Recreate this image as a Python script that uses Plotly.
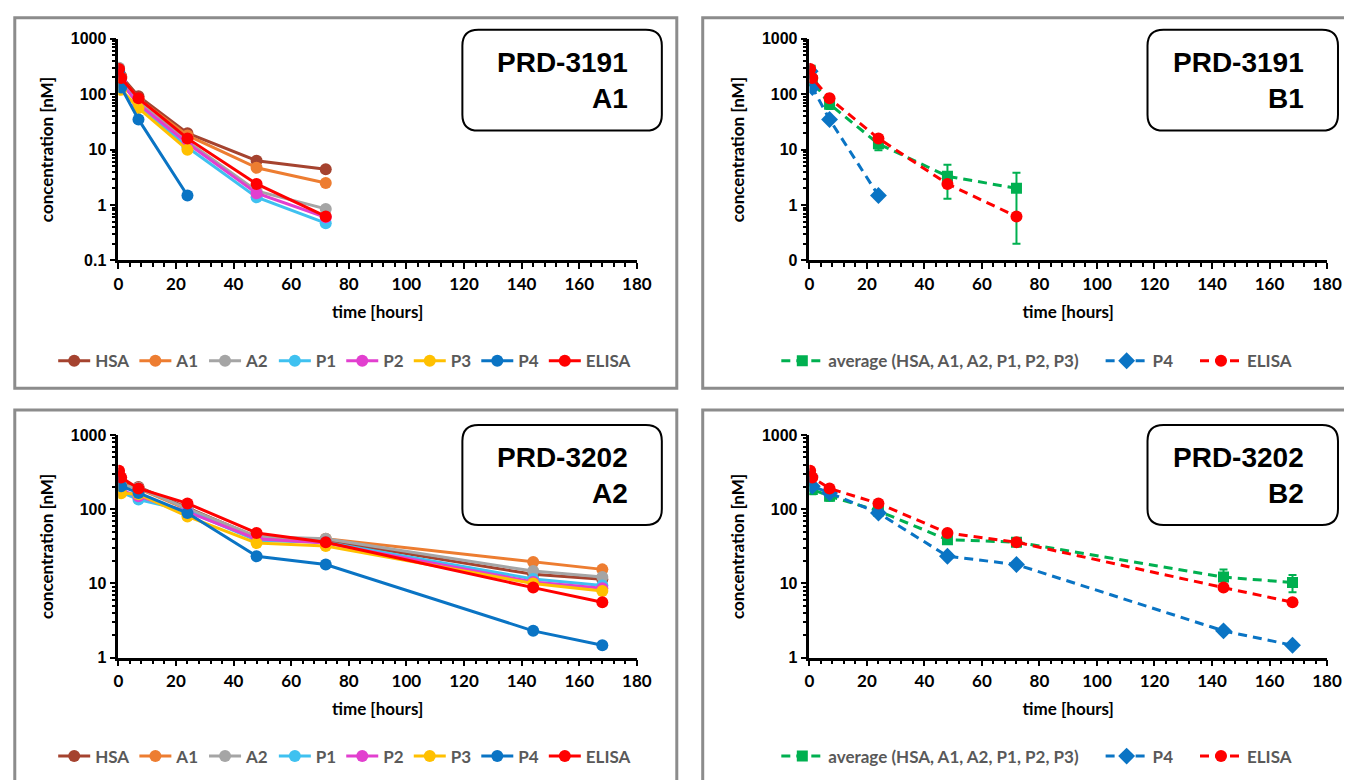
import plotly.graph_objects as go

# Figure size (px) and measured page->photo mapping (photo = A * figure_px + B)
W, H = 1362, 784
AX, BX = 0.988, 11.4
AY, BY = 0.980, 15.2

# ---------------- data ----------------
t_3191 = [0.25, 1, 7, 24, 48, 72]
t_3191_p4 = [0.25, 1, 7, 24]
t_3191_p3 = [0.25, 1, 7, 24]
t_3202 = [0.25, 1, 7, 24, 48, 72, 144, 168]

a1_hsa = [290, 210, 92, 19.7, 6.3, 4.4]
a1_a1 = [270, 200, 82, 18, 4.7, 2.5]
a1_a2 = [300, 190, 72, 14, 1.8, 0.85]
a1_p1 = [250, 170, 64, 11, 1.38, 0.47]
a1_p2 = [230, 160, 66, 13, 1.63, 0.6]
a1_p3 = [180, 120, 56, 9.9]
a1_p4 = [260, 132, 35, 1.48]
a1_elisa = [285, 196, 84, 15.9, 2.4, 0.62]

b1_avg = [270, 175, 66, 12.7, 3.3, 2.0]
b1_avg_err = [40, 30, 12, 3, 2.0, 1.8]

a2_hsa = [300, 230, 200, 105, 42, 38, 13.3, 11.4]
a2_a1 = [280, 220, 190, 100, 40, 40, 19.5, 15.5]
a2_a2 = [290, 210, 195, 102, 43, 40, 14.7, 12.2]
a2_p1 = [250, 170, 135, 95, 38, 36, 11.5, 9.4]
a2_p2 = [220, 180, 150, 92, 40, 35, 10.5, 8.6]
a2_p3 = [190, 165, 160, 80, 35, 32, 10.0, 7.9]
a2_p4 = [280, 205, 166, 89, 23.3, 18, 2.3, 1.47]
a2_elisa = [330, 268, 191, 120, 48, 36, 8.8, 5.6]

b2_avg = [270, 185, 150, 95, 39, 36, 12.2, 10.3]
b2_avg_err = [50, 25, 20, 8, 3, 3, 3.2, 2.7]

series_names = ["HSA", "A1", "A2", "P1", "P2", "P3", "P4", "ELISA"]
series_colors = ["#A5432F", "#ED7D31", "#A5A5A5", "#3FC1F0", "#E23FCF", "#FFC000", "#0A74C4", "#FF0000"]
avg_name = "average (HSA, A1, A2, P1, P2, P3)"
avg_color = "#00B050"

log_ticks_a = [0.1, 1, 10, 100, 1000]
log_text_a = ["0.1", "1", "10", "100", "1000"]
log_text_b = ["0", "1", "10", "100", "1000"]
log_ticks_2 = [1, 10, 100, 1000]
log_text_2 = ["1", "10", "100", "1000"]
x_ticks = [0, 20, 40, 60, 80, 100, 120, 140, 160, 180]

panel_labels = [("PRD-3191", "A1"), ("PRD-3191", "B1"), ("PRD-3202", "A2"), ("PRD-3202", "B2")]

# ---------------- helpers (photo pixel -> paper) ----------------
def fx(x):
    return (x - BX) / AX

def fy(y):
    return (y - BY) / AY

def px(x):
    return fx(x) / W

def py(y):
    return 1 - fy(y) / H

CAL = "Lato, Open Sans, sans-serif"
ARIAL = "Liberation Sans, Arial, sans-serif"
SP = "\u2002"

fig = go.Figure()

A_sets = {
    1: ([a1_hsa, a1_a1, a1_a2, a1_p1, a1_p2, a1_p3, a1_p4, a1_elisa],
        [t_3191, t_3191, t_3191, t_3191, t_3191, t_3191_p3, t_3191_p4, t_3191]),
    3: ([a2_hsa, a2_a1, a2_a2, a2_p1, a2_p2, a2_p3, a2_p4, a2_elisa],
        [t_3202] * 8),
}

for ax, (vals, times) in A_sets.items():
    leg = "legend" if ax == 1 else "legend3"
    for name, col, v, tx in zip(series_names, series_colors, vals, times):
        fig.add_trace(go.Scatter(
            x=tx, y=v, name=name, mode="lines+markers",
            line=dict(color=col, width=3),
            marker=dict(color=col, size=12, symbol="circle"),
            xaxis="x" + ("" if ax == 1 else str(ax)),
            yaxis="y" + ("" if ax == 1 else str(ax)),
            legend=leg,
        ))

B_sets = {
    2: (t_3191, b1_avg, b1_avg_err, t_3191_p4, a1_p4, a1_elisa),
    4: (t_3202, b2_avg, b2_avg_err, t_3202, a2_p4, a2_elisa),
}
for ax, (tt, avg, err, tp4, p4, el) in B_sets.items():
    xa, ya, leg = "x" + str(ax), "y" + str(ax), "legend" + str(ax)
    fig.add_trace(go.Scatter(
        x=tt, y=avg, name=avg_name + SP * 2, mode="lines+markers",
        line=dict(color=avg_color, width=3, dash="9px,6px"),
        marker=dict(color=avg_color, size=11, symbol="square"),
        error_y=dict(type="data", array=err, visible=True, color=avg_color, thickness=2, width=4),
        xaxis=xa, yaxis=ya, legend=leg,
    ))
    fig.add_trace(go.Scatter(
        x=tp4, y=p4, name="P4" + SP * 2, mode="lines+markers",
        line=dict(color=series_colors[6], width=3, dash="9px,6px"),
        marker=dict(color=series_colors[6], size=13, symbol="diamond"),
        xaxis=xa, yaxis=ya, legend=leg,
    ))
    fig.add_trace(go.Scatter(
        x=tt, y=el, name="ELISA", mode="lines+markers",
        line=dict(color=series_colors[7], width=3, dash="9px,6px"),
        marker=dict(color=series_colors[7], size=12, symbol="circle"),
        xaxis=xa, yaxis=ya, legend=leg,
    ))

# ---------------- axes ----------------
x_dom_left = [px(117), px(637)]
x_dom_right = [px(810), px(1329)]
y_dom_top = [py(260), py(38)]
y_dom_bot = [py(658), py(435)]

def xaxis(domain, anchor):
    return dict(
        domain=domain, anchor=anchor, range=[0, 180], tickvals=x_ticks,
        showline=True, linecolor="black", linewidth=2.5,
        ticks="outside", ticklen=6, tickwidth=2, tickcolor="black",
        minor=dict(ticks="outside", ticklen=4, tickwidth=1.5, tickcolor="black", dtick=4, showgrid=False),
        showgrid=False, zeroline=False,
        tickfont=dict(family=CAL, size=17, color="black", weight="bold"),
        title=dict(text="time [hours]", font=dict(family=CAL, size=17, color="black", weight="bold"), standoff=14),
    )

def yaxis(domain, anchor, rng, tv, tt):
    return dict(
        domain=domain, anchor=anchor, type="log", range=rng, tickvals=tv, ticktext=tt,
        showline=True, linecolor="black", linewidth=2.5,
        ticks="outside", ticklen=6, tickwidth=2, tickcolor="black",
        minor=dict(ticks="outside", ticklen=4, tickwidth=1.5, tickcolor="black", dtick="D1", showgrid=False),
        showgrid=False, zeroline=False,
        tickfont=dict(family=ARIAL, size=16, color="black", weight="bold"),
        title=dict(text="concentration [nM]", font=dict(family=CAL, size=17, color="black", weight="bold"), standoff=13),
    )

legend_common = dict(
    orientation="h", yanchor="middle", xanchor="center",
    font=dict(family=CAL, size=17, color="#595959", weight="bold"),
    bgcolor="rgba(0,0,0,0)", itemclick=False,
)

fig.update_layout(
    width=W, height=H,
    margin=dict(l=0, r=0, t=0, b=0),
    paper_bgcolor="white", plot_bgcolor="white",
    showlegend=True,
    xaxis=xaxis(x_dom_left, "y"),
    yaxis=yaxis(y_dom_top, "x", [-1, 3], log_ticks_a, log_text_a),
    xaxis2=xaxis(x_dom_right, "y2"),
    yaxis2=yaxis(y_dom_top, "x2", [-1, 3], log_ticks_a, log_text_b),
    xaxis3=xaxis(x_dom_left, "y3"),
    yaxis3=yaxis(y_dom_bot, "x3", [0, 3], log_ticks_2, log_text_2),
    xaxis4=xaxis(x_dom_right, "y4"),
    yaxis4=yaxis(y_dom_bot, "x4", [0, 3], log_ticks_2, log_text_2),
    legend=dict(legend_common, x=px(344), y=py(361), itemwidth=32),
    legend2=dict(legend_common, x=px(1038), y=py(361), itemwidth=42),
    legend3=dict(legend_common, x=px(344), y=py(757), itemwidth=32),
    legend4=dict(legend_common, x=px(1038), y=py(757), itemwidth=42),
)

# ---------------- panel frames & label boxes ----------------
shapes = []
EDGE_L = 1.8 / W          # keep the left frame line just inside the figure
EDGE_T = 1 - 1.8 / H      # keep the top frame line just inside the figure
frames = [(10, 15, 677, 388), (703, 15, None, 388), (10, 410, 677, None), (703, 410, None, None)]
for (x0, y0, x1, y1) in frames:
    shapes.append(dict(type="rect", xref="paper", yref="paper",
                       x0=max(px(x0), EDGE_L), x1=(px(x1) if x1 is not None else 1.01),
                       y0=(py(y1) if y1 is not None else -0.01), y1=min(py(y0), EDGE_T),
                       line=dict(color="#8c8c8c", width=3), layer="below"))

def rounded(x0, y0, x1, y1, r):
    pts = [
        f"M {px(x0 + r)} {py(y0)}",
        f"L {px(x1 - r)} {py(y0)}",
        f"Q {px(x1)} {py(y0)} {px(x1)} {py(y0 + r)}",
        f"L {px(x1)} {py(y1 - r)}",
        f"Q {px(x1)} {py(y1)} {px(x1 - r)} {py(y1)}",
        f"L {px(x0 + r)} {py(y1)}",
        f"Q {px(x0)} {py(y1)} {px(x0)} {py(y1 - r)}",
        f"L {px(x0)} {py(y0 + r)}",
        f"Q {px(x0)} {py(y0)} {px(x0 + r)} {py(y0)}",
        "Z",
    ]
    return " ".join(pts)

boxes = [(462, 29, 662, 130), (1149, 29, 1340, 130), (462, 425, 662, 525), (1149, 425, 1340, 525)]
annotations = []
for (x0, y0, x1, y1), (l1, l2) in zip(boxes, panel_labels):
    shapes.append(dict(type="path", xref="paper", yref="paper", path=rounded(x0, y0, x1, y1, 16),
                       line=dict(color="black", width=2), fillcolor="white"))
    annotations.append(dict(
        xref="paper", yref="paper", x=px(x1 - 32), y=py((y0 + y1) / 2),
        xanchor="right", yanchor="middle", align="right", showarrow=False,
        text=f"{l1}<br>{l2}",
        font=dict(family=ARIAL, size=28, color="black", weight="bold"),
    ))

fig.update_layout(shapes=shapes, annotations=annotations)

fig.write_html("out.html")
